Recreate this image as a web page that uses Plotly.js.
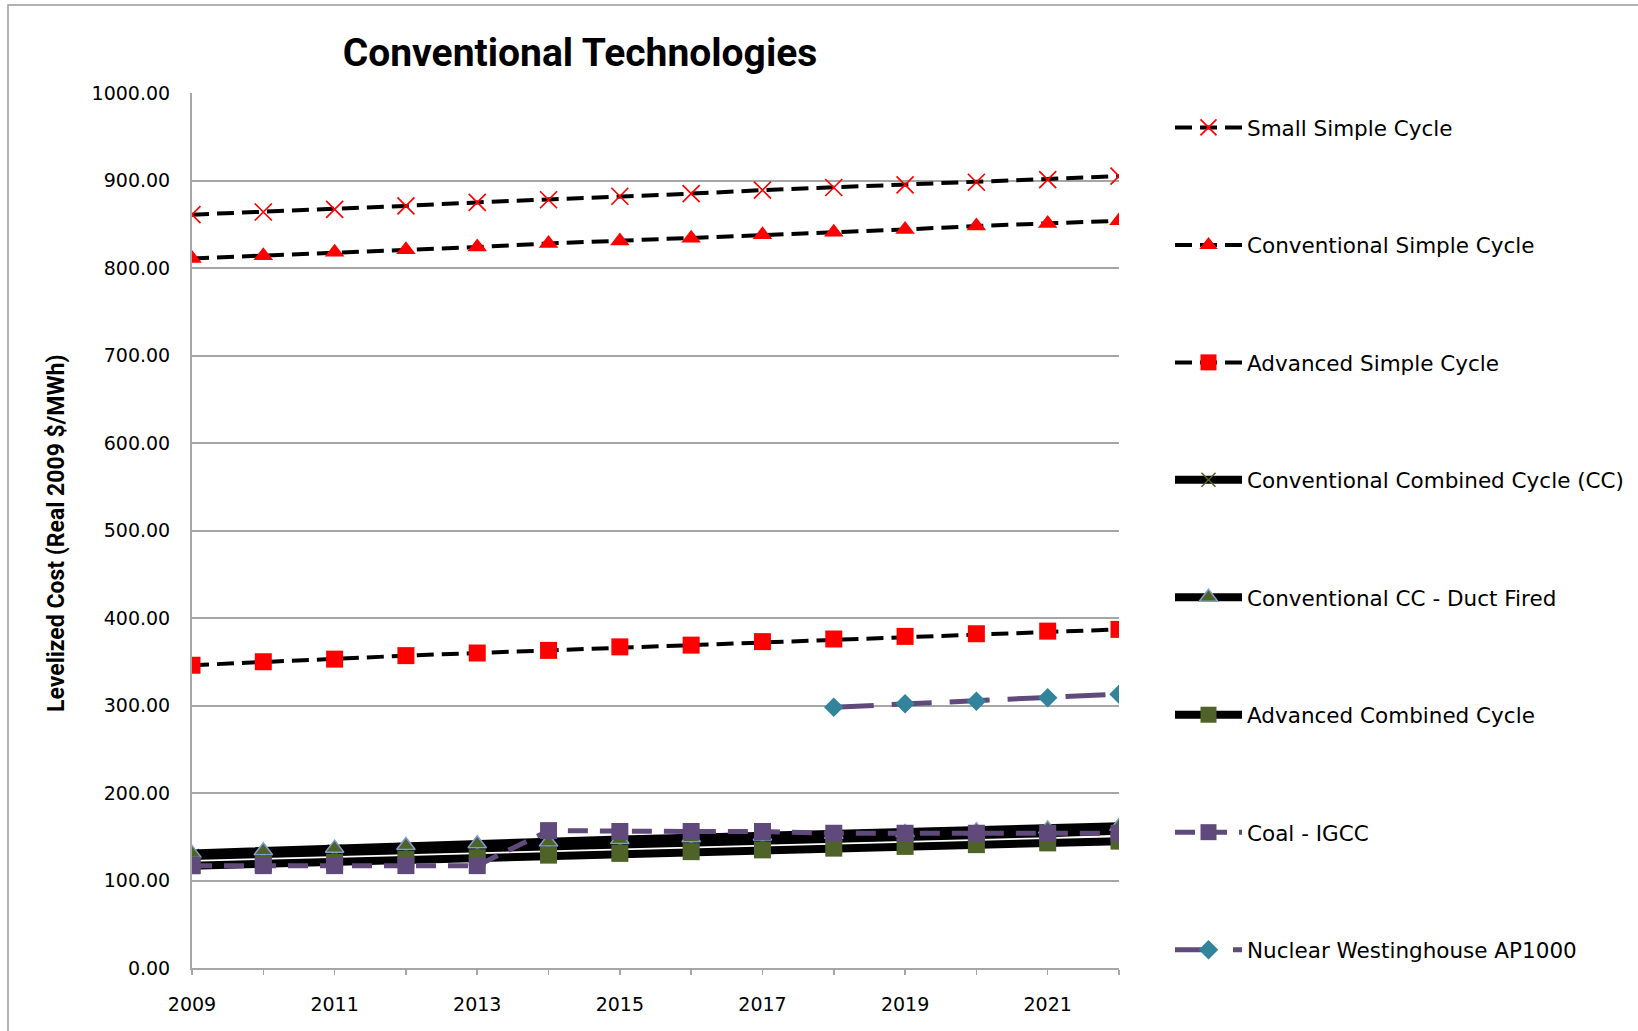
<!DOCTYPE html>
<html>
<head>
<meta charset="utf-8">
<script src="https://cdn.plot.ly/plotly-3.0.1.min.js"></script>
<style>
  html, body { margin: 0; padding: 0; background: #ffffff; }
  #chart { width: 1638px; height: 1031px; }
</style>
</head>
<body>
<div id="chart"></div>
<script>
// ---- data ----
const years = [2009, 2010, 2011, 2012, 2013, 2014, 2015, 2016, 2017, 2018, 2019, 2020, 2021, 2022];
const xTickText = ['2009', '', '2011', '', '2013', '', '2015', '', '2017', '', '2019', '', '2021', ''];
const yTickVals = [0, 100, 200, 300, 400, 500, 600, 700, 800, 900, 1000];

const seriesNames = [
  'Small Simple Cycle',
  'Conventional Simple Cycle',
  'Advanced Simple Cycle',
  'Conventional Combined Cycle (CC)',
  'Conventional CC - Duct Fired',
  'Advanced Combined Cycle',
  'Coal - IGCC',
  'Nuclear Westinghouse AP1000'
];

const smallSimpleCycle   = [861, 864, 867, 871, 875, 878, 882, 885, 889, 892, 895, 898, 901, 905];
const convSimpleCycle    = [811, 814, 818, 821, 824, 828, 831, 834, 838, 841, 844, 848, 851, 854];
const advSimpleCycle     = [346, 350, 353, 357, 360, 363, 367, 369, 373, 376, 379, 382, 385, 387];
const convCombinedCycle  = [128, 130, 133, 135, 137, 140, 142, 144, 146, 148, 150, 152, 154, 157];
const convCCDuctFired    = [131, 134, 137, 140, 142, 144, 147, 149, 151, 153, 155, 157, 159, 162];
const advCombinedCycle   = [117, 119, 121, 124, 126, 129, 131, 133, 135, 137, 139, 141, 143, 145];
const coalIGCC           = [117, 117, 117, 117, 117, 157, 156, 156, 156, 154, 154, 154, 154, 154];
const nuclearAP1000      = [null, null, null, null, null, null, null, null, null, 298, 302, 305, 309, 313];

const titleText = 'Conventional Technologies';
const yTitleText = 'Levelized Cost (Real 2009 $/MWh)';

// ---- layout geometry (pixels) ----
const W = 1638, H = 1031;
const plotL = 192, plotR = 1119, plotT = 93, plotB = 968;
const pw = plotR - plotL, ph = plotB - plotT;
const px2x = p => (p - plotL) / pw;
const py2y = p => (plotB - p) / ph;

function trace(name, y, line, marker, group) {
  return {
    type: 'scatter', mode: 'lines+markers', x: years, y: y, name: name,
    legendgroup: group, line: line, marker: marker, connectgaps: false,
    hoverinfo: 'skip'
  };
}

const dashSimple = '17px,8px';
const data = [
  trace(seriesNames[0], smallSimpleCycle, {color: '#000000', width: 4, dash: dashSimple},
        {symbol: 'x-thin-open', size: 17, color: '#ff0000', line: {color: '#ff0000', width: 1.7}}, 'g1'),
  trace(seriesNames[1], convSimpleCycle, {color: '#000000', width: 4, dash: dashSimple},
        {symbol: 'triangle-up', size: 17, color: '#ff0000', line: {width: 0}}, 'g2'),
  trace(seriesNames[2], advSimpleCycle, {color: '#000000', width: 4, dash: dashSimple},
        {symbol: 'square', size: 17, color: '#ff0000', line: {width: 0}}, 'g3'),
  trace(seriesNames[3], convCombinedCycle, {color: '#000000', width: 8},
        {symbol: 'x-thin-open', size: 14, color: '#4f6228', line: {color: '#4f6228', width: 1.5}}, 'g4'),
  trace(seriesNames[4], convCCDuctFired, {color: '#000000', width: 8},
        {symbol: 'triangle-up', size: 16, color: '#4f6228', line: {color: '#7f9fd0', width: 1.5}}, 'g5'),
  trace(seriesNames[5], advCombinedCycle, {color: '#000000', width: 8},
        {symbol: 'square', size: 17, color: '#4f6228', line: {width: 0}}, 'g6'),
  trace(seriesNames[6], coalIGCC, {color: '#604a7b', width: 5, dash: '20px,12px'},
        {symbol: 'square', size: 17, color: '#604a7b', line: {width: 0}}, 'g7'),
  trace(seriesNames[7], nuclearAP1000, {color: '#604a7b', width: 5, dash: '40px,18px'},
        {symbol: 'diamond', size: 15, color: '#31849b', line: {width: 0}}, 'g8')
];

const gridColor = '#a6a6a6';
const layout = {
  width: W, height: H,
  margin: {l: plotL, r: W - plotR, t: plotT, b: H - plotB, pad: 0, autoexpand: false},
  paper_bgcolor: '#ffffff', plot_bgcolor: '#ffffff',
  showlegend: true,
  title: {
    text: titleText,
    font: {family: 'Roboto', size: 39, color: '#000000', weight: 700},
    x: px2x(580), xref: 'paper', xanchor: 'center',
    y: 1 - 52 / H, yref: 'container', yanchor: 'middle'
  },
  xaxis: {
    range: [2009, 2022], type: 'linear',
    tickmode: 'array', tickvals: years, ticktext: xTickText,
    ticks: 'outside', ticklen: 5, tickwidth: 1.5, tickcolor: gridColor,
    showline: true, linecolor: gridColor, linewidth: 2,
    showgrid: false, zeroline: false,
    tickfont: {family: 'DejaVu Sans', size: 19, color: '#000000'},
    ticklabelstandoff: 13
  },
  yaxis: {
    range: [0, 1000], tickmode: 'array', tickvals: yTickVals,
    tickformat: '.2f', ticks: '',
    showline: true, linecolor: gridColor, linewidth: 2,
    showgrid: true, gridcolor: gridColor, gridwidth: 2,
    zeroline: false,
    tickfont: {family: 'DejaVu Sans', size: 19, color: '#000000'},
    ticklabelstandoff: 16
  },
  legend: {
    x: px2x(1170), xanchor: 'left', xref: 'paper',
    y: py2y(107), yanchor: 'top', yref: 'paper',
    traceorder: 'grouped', tracegroupgap: 86.5,
    itemwidth: 67,
    font: {family: 'DejaVu Sans', size: 21.5, color: '#000000'},
    bgcolor: 'rgba(0,0,0,0)', borderwidth: 0
  },
  annotations: [{
    text: yTitleText, xref: 'paper', yref: 'paper',
    x: px2x(56), y: py2y(533), xanchor: 'center', yanchor: 'middle',
    textangle: -90, showarrow: false,
    font: {family: 'Roboto', size: 23, color: '#000000', weight: 700}
  }],
  shapes: [{
    type: 'rect', xref: 'paper', yref: 'paper', layer: 'below',
    x0: px2x(8), x1: px2x(1700), y0: py2y(1100), y1: py2y(5),
    line: {color: '#9a9a9a', width: 1.5}, fillcolor: 'rgba(0,0,0,0)'
  }]
};

Plotly.newPlot('chart', data, layout, {displayModeBar: false, staticPlot: true});
</script>
</body>
</html>
